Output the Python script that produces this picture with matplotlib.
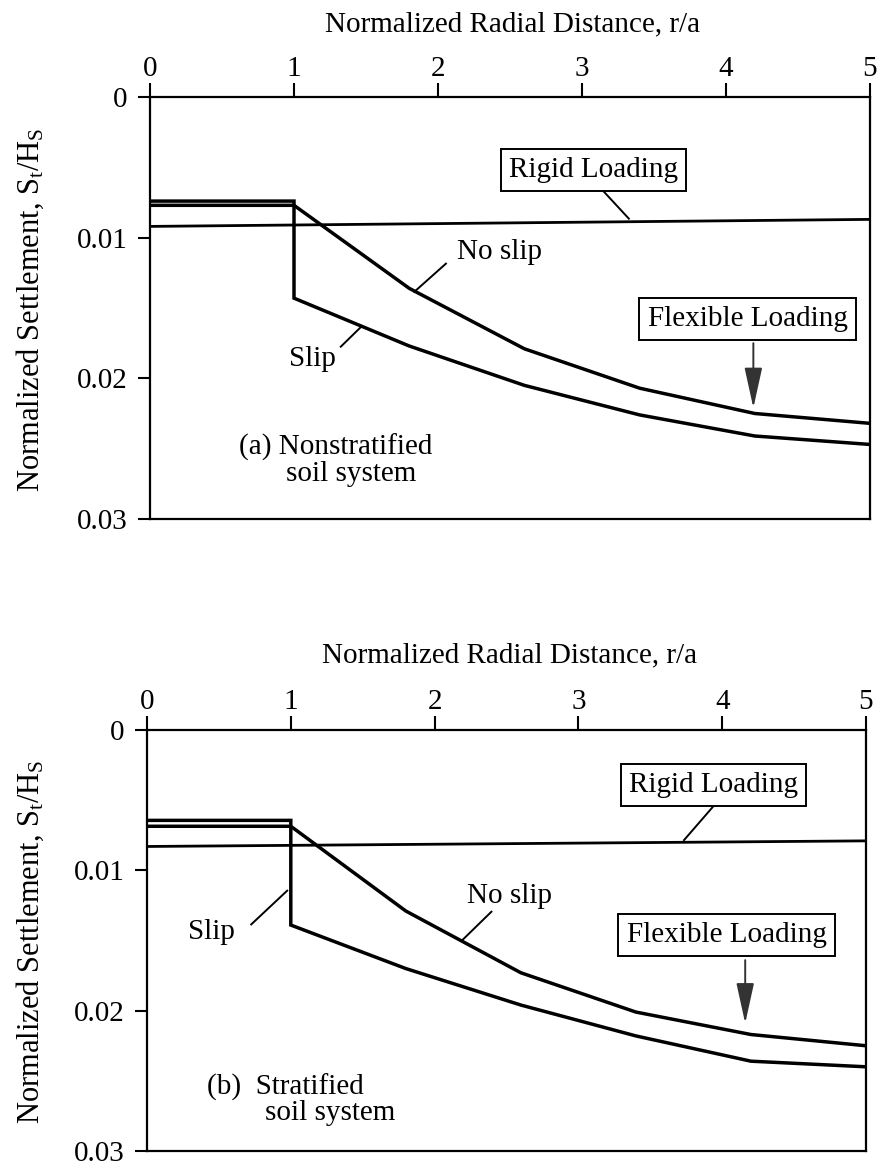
import matplotlib
matplotlib.use("Agg")
import matplotlib.pyplot as plt

plt.rcParams['font.family'] = ['Liberation Serif', 'DejaVu Serif']
plt.rcParams['mathtext.fontset'] = 'custom'
plt.rcParams['mathtext.rm'] = 'Liberation Serif'
plt.rcParams['mathtext.it'] = 'Liberation Serif:italic'

# ---------------- data ----------------
r_ticks = [0, 1, 2, 3, 4, 5]
s_ticks = [0, 0.01, 0.02, 0.03]
s_tick_labels = ['0', '0.01', '0.02', '0.03']

r_rigid = [0, 5]
r_noslip = [0, 1, 1.8, 2.6, 3.4, 4.2, 5]
r_slip = [0, 1, 1, 1.8, 2.6, 3.4, 4.2, 5]

# (a) Nonstratified soil system
a_rigid = [0.0092, 0.0087]
a_noslip = [0.0077, 0.0077, 0.0136, 0.0179, 0.0207, 0.0225, 0.0232]
a_slip = [0.0074, 0.0074, 0.0143, 0.0177, 0.0205, 0.0226, 0.0241, 0.0247]

# (b) Stratified soil system
b_rigid = [0.0083, 0.0079]
b_noslip = [0.00686, 0.00686, 0.0129, 0.0173, 0.0201, 0.0217, 0.0225]
b_slip = [0.00644, 0.00644, 0.0139, 0.0170, 0.0196, 0.0218, 0.0236, 0.0240]

FS = 21
FS_TICK = 21
FS_YL = 22
W, H = 878, 1168

fig = plt.figure(figsize=(W / 100, H / 100), dpi=100)
ax1 = fig.add_axes([150 / W, 1 - 519 / H, 720 / W, 422 / H])
ax2 = fig.add_axes([147 / W, 1 - 1151 / H, 719 / W, 421 / H])


def style(ax):
    ax.set_xlim(0, 5)
    ax.set_ylim(0.03, 0)
    ax.xaxis.tick_top()
    ax.set_xticks(r_ticks)
    ax.set_xticklabels([str(t) for t in r_ticks], fontsize=FS_TICK)
    ax.set_yticks(s_ticks)
    ax.set_yticklabels(s_tick_labels, fontsize=FS_TICK)
    ax.tick_params(axis='x', direction='out', length=10, width=1.5, pad=1)
    ax.tick_params(axis='y', direction='out', length=9, width=1.5, pad=7)
    for sp in ax.spines.values():
        sp.set_linewidth(1.6)


def box_text(ax, x, y, s):
    ax.text(x, y, s, fontsize=FS, ha='center', va='center',
            bbox=dict(boxstyle='square,pad=0.28', fc='white', ec='black', lw=1.4))


def leader(ax, x0, y0, x1, y1):
    ax.plot([x0, x1], [y0, y1], color='black', lw=1.4, solid_capstyle='butt')


def arrow(ax, x, y0, y1):
    ax.annotate('', xy=(x, y1), xytext=(x, y0),
                arrowprops=dict(arrowstyle='-|>,head_length=2.5,head_width=0.55',
                                color='#333333', lw=1.4, shrinkA=0, shrinkB=0))


for ax, rig, ns, sl in [(ax1, a_rigid, a_noslip, a_slip), (ax2, b_rigid, b_noslip, b_slip)]:
    style(ax)
    ax.plot(r_rigid, rig, color='black', lw=2.0)
    ax.plot(r_noslip, ns, color='black', lw=2.5, solid_joinstyle='miter')
    ax.plot(r_slip, sl, color='black', lw=2.5, solid_joinstyle='miter')

# ---- panel (a) annotations ----
box_text(ax1, 3.08, 0.0052, 'Rigid Loading')
leader(ax1, 3.14, 0.0066, 3.33, 0.0087)
box_text(ax1, 4.15, 0.0158, 'Flexible Loading')
arrow(ax1, 4.19, 0.0175, 0.0221)
ax1.text(2.43, 0.0110, 'No slip', fontsize=FS, ha='center', va='center')
leader(ax1, 2.06, 0.0118, 1.83, 0.0139)
ax1.text(1.13, 0.0186, 'Slip', fontsize=FS, ha='center', va='center')
leader(ax1, 1.32, 0.0178, 1.47, 0.0163)
ax1.text(0.62, 0.0249, '(a) Nonstratified', fontsize=FS, ha='left', va='center')
ax1.text(1.40, 0.0268, 'soil system', fontsize=FS, ha='center', va='center')

# ---- panel (b) annotations ----
box_text(ax2, 3.94, 0.0039, 'Rigid Loading')
leader(ax2, 3.95, 0.0053, 3.73, 0.0079)
box_text(ax2, 4.03, 0.0146, 'Flexible Loading')
arrow(ax2, 4.16, 0.0164, 0.0209)
ax2.text(2.52, 0.0118, 'No slip', fontsize=FS, ha='center', va='center')
leader(ax2, 2.40, 0.0129, 2.19, 0.0150)
ax2.text(0.45, 0.0144, 'Slip', fontsize=FS, ha='center', va='center')
leader(ax2, 0.72, 0.0139, 0.98, 0.0114)
ax2.text(0.42, 0.0255, '(b)  Stratified', fontsize=FS, ha='left', va='center')
ax2.text(1.27, 0.0273, 'soil system', fontsize=FS, ha='center', va='center')

# ---- axis titles ----
xl = 'Normalized Radial Distance, r/a'
yl = r'Normalized Settlement, S$_{\mathrm{t}}$/H$_{\mathrm{S}}$'
fig.text(513 / W, 1 - 24 / H, xl, fontsize=FS, ha='center', va='center')
fig.text(510 / W, 1 - 655 / H, xl, fontsize=FS, ha='center', va='center')
fig.text(30 / W, 1 - 310 / H, yl, fontsize=FS_YL, ha='center', va='center', rotation=90)
fig.text(30 / W, 1 - 942 / H, yl, fontsize=FS_YL, ha='center', va='center', rotation=90)

fig.savefig('out.png', dpi=100, facecolor='white')
